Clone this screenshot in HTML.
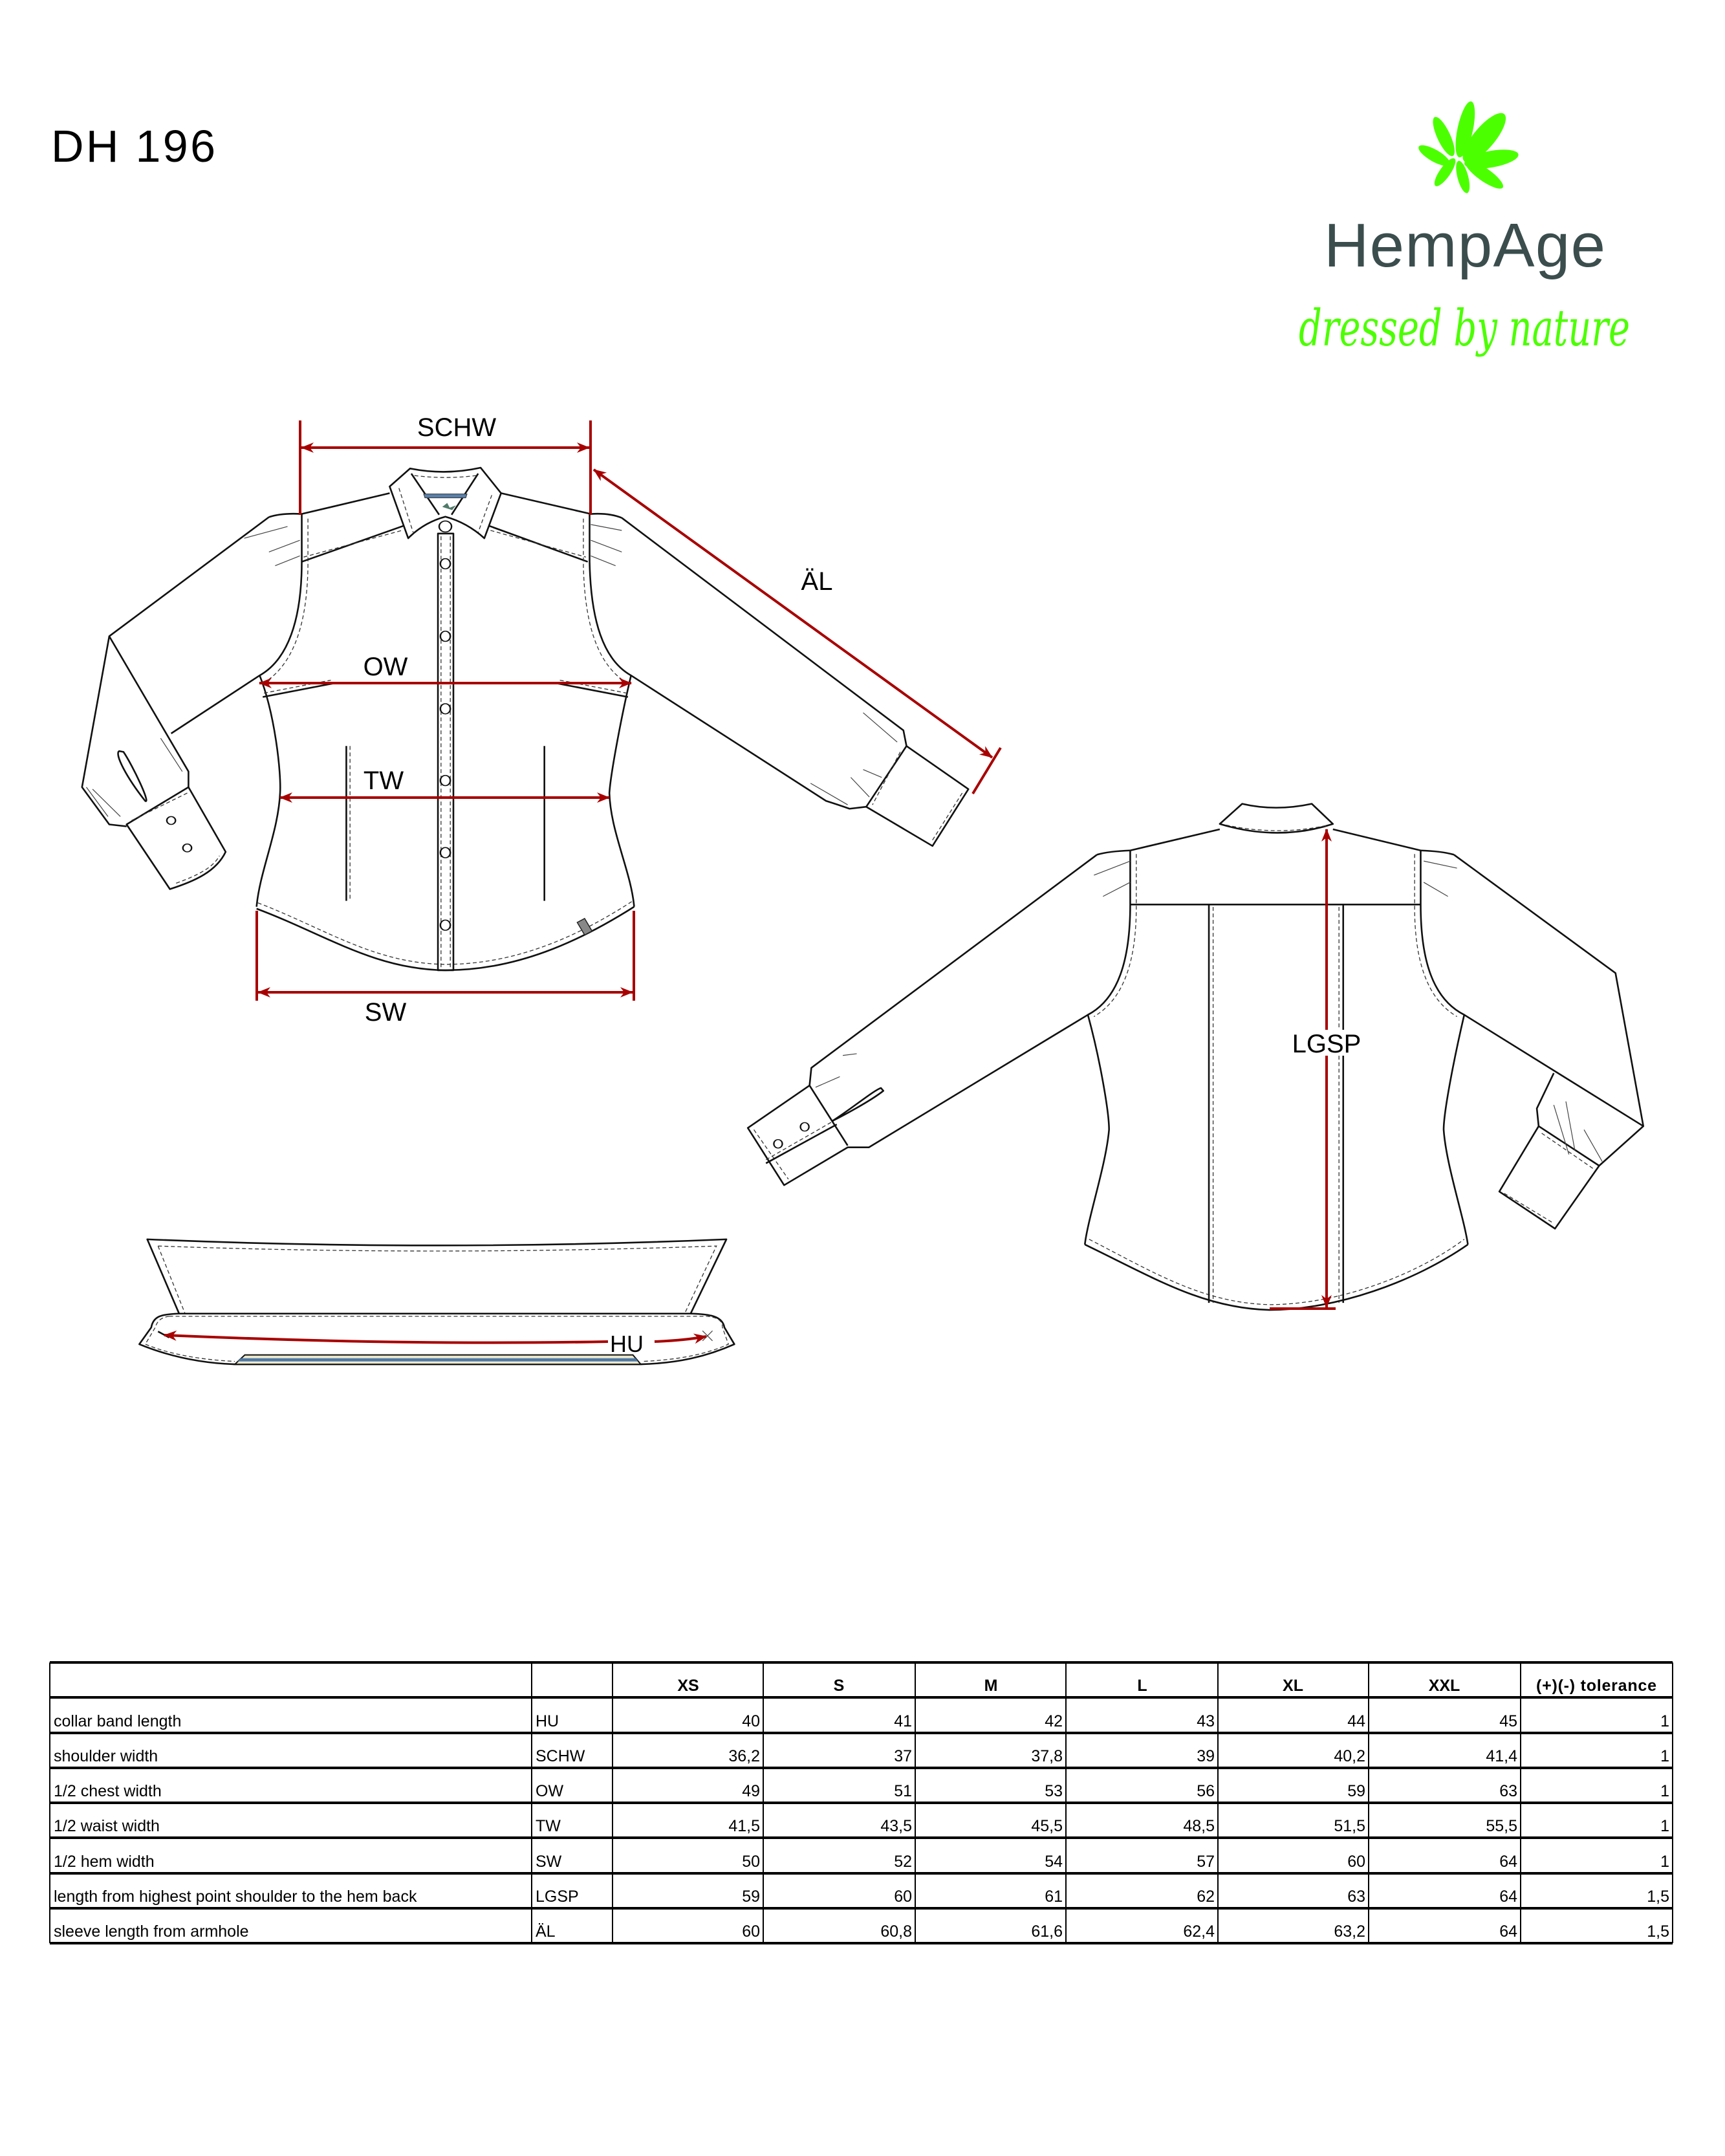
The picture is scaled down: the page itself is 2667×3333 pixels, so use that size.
<!DOCTYPE html>
<html><head><meta charset="utf-8"><style>
html,body{margin:0;padding:0;background:#fff;}
svg{display:block}
.k{fill:none;stroke:#111;stroke-width:2.6;vector-effect:non-scaling-stroke;stroke-linejoin:round}
.d{fill:none;stroke:#333;stroke-width:1.3;stroke-dasharray:6 4;vector-effect:non-scaling-stroke}
.t{fill:none;stroke:#444;stroke-width:1.2;vector-effect:non-scaling-stroke}
.r{fill:none;stroke:#a80000;stroke-width:4}
.lbl{font-family:"Liberation Sans",sans-serif;font-size:40px;fill:#000;text-anchor:middle}
.tb{font-family:"Liberation Sans",sans-serif;font-size:25px;fill:#000}
.h{font-weight:bold;text-anchor:middle}
.n{text-anchor:end}
</style></head><body>
<svg width="2667" height="3333" viewBox="0 0 2667 3333" xmlns="http://www.w3.org/2000/svg">
<defs>
<marker id="ah" viewBox="0 0 20 16" refX="19" refY="8" markerWidth="20" markerHeight="16" markerUnits="userSpaceOnUse" orient="auto-start-reverse">
<path d="M0,0 L20,8 L0,16 L6,8 Z" fill="#a80000"/></marker>
</defs>
<rect width="2667" height="3333" fill="#fff"/>

<text x="79" y="250" font-family="Liberation Sans, sans-serif" font-size="70" textLength="254" fill="#000">DH 196</text>

<g fill="#4cff00" transform="translate(2258,246) scale(0.92)">
<ellipse cx="8" cy="-50" rx="13" ry="48" transform="rotate(12 8 -50)"/>
<ellipse cx="-28" cy="-38" rx="11" ry="36" transform="rotate(-25 -28 -38)"/>
<ellipse cx="40" cy="-36" rx="18" ry="52" transform="rotate(40 40 -36)"/>
<ellipse cx="52" cy="0" rx="14" ry="46" transform="rotate(80 52 0)"/>
<ellipse cx="-44" cy="-6" rx="10" ry="30" transform="rotate(-60 -44 -6)"/>
<ellipse cx="-26" cy="22" rx="9" ry="28" transform="rotate(35 -26 22)"/>
<ellipse cx="4" cy="30" rx="9" ry="28" transform="rotate(-15 4 30)"/>
<ellipse cx="40" cy="26" rx="11" ry="38" transform="rotate(-55 40 26)"/>
</g>
<text x="2047" y="412" font-family="Liberation Sans, sans-serif" font-size="96" textLength="435" fill="#3b4d4d">HempAge</text>
<text x="2008" y="534" font-family="DejaVu Serif, serif" font-style="italic" font-size="78" textLength="512" lengthAdjust="spacingAndGlyphs" fill="#4cff00">dressed by nature</text>

<!-- FRONT SHIRT -->
<g transform="translate(100,620) scale(0.957,0.606)">
<path class="k" d="M558,172 Q615,190 672,170 L705,235 L678,350 Q650,310 615,295 Q580,310 555,350 L525,218 Z"/>
<path class="d" d="M540,222 L563,335 M690,240 L668,335 M565,190 Q615,200 665,190"/>
<path class="k" d="M560,185 L605,290 M668,185 L625,290"/>
<path d="M580,237 L650,237 L648,247 L582,247 Z" fill="#5a7fa8" stroke="#333" stroke-width="1" vector-effect="non-scaling-stroke"/>
<path d="M610,270 l8,-10 l4,12 l10,-6 l-6,12 z" fill="#4f7a6a"/>
<path class="k" d="M525,235 L383,288 M705,235 L850,288"/>
<path class="k" d="M383,288 Q350,285 330,296 M850,288 Q880,285 900,298"/>
<path class="k" d="M383,410 L548,318 M685,318 L845,410"/>
<path class="d" d="M386,398 L545,330 M688,330 L842,398"/>
<path class="k" d="M383,288 L383,410 C383,560 360,660 315,700 C340,800 350,950 348,1000 C345,1100 315,1200 310,1290"/>
<path class="d" d="M393,300 L393,420 C392,560 372,660 330,710"/>
<path class="k" d="M310,1295 C420,1360 500,1450 615,1452 C730,1452 830,1380 920,1290"/>
<path class="d" d="M312,1280 C420,1345 500,1435 615,1437 C730,1437 830,1365 918,1275"/>
<path class="k" d="M848,288 L848,410 C850,560 870,660 915,700 C900,800 882,950 880,1000 C882,1100 915,1200 920,1290"/>
<path class="d" d="M838,300 L838,420 C840,560 858,660 900,710"/>
<rect class="k" x="603" y="338" width="25" height="1114"/>
<path class="d" d="M608,345 L608,1445 M623,345 L623,1445"/>
<g fill="#fff" stroke="#111" stroke-width="2.5" vector-effect="non-scaling-stroke">
<ellipse cx="615" cy="320" rx="10" ry="14"/>
<ellipse cx="615" cy="415" rx="8" ry="13"/><ellipse cx="615" cy="600" rx="8" ry="13"/>
<ellipse cx="615" cy="785" rx="8" ry="13"/><ellipse cx="615" cy="968" rx="8" ry="13"/>
<ellipse cx="615" cy="1152" rx="8" ry="13"/><ellipse cx="615" cy="1337" rx="8" ry="13"/>
</g>
<path class="k" d="M320,755 L435,720 M795,720 L910,755"/>
<path class="d" d="M322,745 L430,712 M800,712 L908,745"/>
<path class="k" d="M455,880 L455,1275 M775,880 L775,1275"/>
<path class="d" d="M461,880 L461,1275"/>
<path d="M828,1330 L840,1320 L852,1352 L840,1362 Z" fill="#888" stroke="#222" stroke-width="1.5" vector-effect="non-scaling-stroke"/>
<path class="k" d="M330,296 L72,600 L28,985 L72,1080 L100,1085 M72,600 L200,945 L200,985 M315,700 L172,848"/>
<path class="k" d="M100,1080 L170,1245 C210,1225 245,1200 260,1150 L200,985 Z"/>
<path class="d" d="M108,1070 L198,1000 M180,1230 C215,1210 240,1190 250,1160"/>
<path class="k" d="M88,893 C80,900 100,960 130,1020 C140,1030 110,930 95,895 Z"/>
<path class="t" d="M290,350 L360,320 M330,385 L380,355 M340,420 L380,395 M35,985 L70,1060 M45,990 L90,1060 M155,860 L190,945"/>
<g fill="#fff" stroke="#111" stroke-width="2.5" vector-effect="non-scaling-stroke"><ellipse cx="172" cy="1070" rx="7" ry="10"/><ellipse cx="198" cy="1140" rx="7" ry="10"/></g>
<path class="k" d="M900,298 L1355,840 L1360,880 L1460,990 L1402,1135 L1295,1035 L1268,1040 C1250,1030 1240,1025 1230,1020 L915,700"/>
<path class="k" d="M1360,880 L1295,1035"/>
<path class="d" d="M1350,895 L1305,1030 M1450,1000 L1400,1125"/>
<path class="t" d="M850,315 L900,330 M850,355 L900,385 M850,395 L890,420 M1290,795 L1345,870 M1270,960 L1300,1010 M1205,975 L1265,1030 M1290,940 L1320,960"/>
</g>

<!-- BACK SHIRT -->
<g transform="translate(1130,1200) scale(0.9355,0.5464)">
<path class="k" d="M808,135 L845,78 Q900,100 960,78 L995,135 Q905,185 808,135 Z"/>
<path class="d" d="M818,138 Q905,170 988,138"/>
<path class="k" d="M808,150 L660,210 M995,150 L1140,210"/>
<path class="k" d="M660,210 Q625,212 605,222 M1140,210 Q1175,212 1195,222"/>
<path class="k" d="M660,363 L1140,363"/>
<path class="k" d="M660,210 L660,363 C660,520 640,630 590,675 C610,800 625,950 625,1000 C620,1100 590,1250 585,1325"/>
<path class="d" d="M670,220 L670,370 C670,520 650,630 600,680"/>
<path class="k" d="M585,1325 C700,1420 780,1505 890,1510 C1000,1510 1130,1430 1218,1325"/>
<path class="d" d="M592,1310 C700,1405 780,1490 890,1495 C1000,1495 1130,1415 1212,1310"/>
<path class="k" d="M1140,210 L1140,363 C1140,520 1160,630 1212,675 C1195,800 1178,950 1178,1000 C1182,1100 1212,1250 1218,1325"/>
<path class="d" d="M1130,220 L1130,370 C1130,520 1150,630 1200,680"/>
<path class="k" d="M790,363 L790,1490 M1012,363 L1012,1490"/>
<path class="d" d="M797,370 L797,1490 M1005,370 L1005,1490"/>
<path class="k" d="M605,222 L133,825 L130,875 L28,995 L88,1157 L193,1050 L228,1050 L590,675 M130,875 L193,1045"/>
<path class="d" d="M38,1000 L95,1140 M58,1085 L170,975"/>
<path class="k" d="M58,1095 L175,985"/>
<path class="k" d="M248,882 C235,890 200,940 168,975 C180,965 230,920 252,890 Z"/>
<g fill="#fff" stroke="#111" stroke-width="2.5" vector-effect="non-scaling-stroke"><ellipse cx="78" cy="1040" rx="7" ry="12"/><ellipse cx="122" cy="992" rx="7" ry="12"/></g>
<path class="t" d="M600,280 L660,240 M615,340 L660,300 M140,880 L180,850 M185,790 L208,785 M1145,240 L1200,260 M1145,300 L1185,340"/>
<path class="k" d="M1195,222 L1462,557 L1508,990 L1212,675"/>
<path class="k" d="M1508,990 L1435,1102 L1362,1280 L1270,1175 L1335,990 L1332,940 L1360,840 M1335,990 L1435,1102"/>
<path class="d" d="M1340,1010 L1425,1110 M1278,1180 L1360,1265"/>
<path class="t" d="M1360,930 L1385,1070 M1410,1000 L1440,1090 M1380,920 L1395,1060"/>
</g>

<!-- COLLAR BAND -->
<g transform="translate(200,1890) scale(0.6154,0.345)">
<path class="k" d="M45,75 Q770,130 1500,75 L1410,408 L125,408 Z"/>
<path class="d" d="M72,105 Q770,150 1475,105 L1395,408 M72,105 L140,408"/>
<path class="k" d="M125,408 C80,410 60,420 55,470 L25,545 C100,600 180,630 265,635 L1285,635 C1380,630 1450,600 1520,545 L1495,470 C1490,420 1460,410 1410,408 Z"/>
<path class="d" d="M100,420 L1450,420 C1480,425 1490,440 1490,470 L1505,545 C1450,590 1380,615 1290,622 M100,420 C80,425 70,440 65,470 L40,545 C100,590 180,615 265,622"/>
<path d="M290,593 L1265,593 L1285,635 L265,635 Z" fill="#ece8cc" stroke="#111" stroke-width="2" vector-effect="non-scaling-stroke"/>
<path d="M280,608 L1272,608 L1278,622 L272,622 Z" fill="#4f79a6"/>
<path class="k" d="M72,488 L100,515"/>
<path class="t" d="M1440,485 L1465,530 M1465,485 L1440,530"/>
</g>

<!-- Red dimension lines -->
<path class="r" d="M464,650 L464,796 M913,650 L913,796"/>
<line class="r" x1="466" y1="692" x2="911" y2="692" marker-start="url(#ah)" marker-end="url(#ah)"/>
<text class="lbl" x="706" y="674">SCHW</text>
<line class="r" x1="918" y1="726" x2="1534" y2="1171" marker-start="url(#ah)" marker-end="url(#ah)"/>
<path class="r" d="M1547,1156 L1504,1227"/>
<text class="lbl" x="1263" y="912">ÄL</text>
<line class="r" x1="401" y1="1056" x2="976" y2="1056" marker-start="url(#ah)" marker-end="url(#ah)"/>
<text class="lbl" x="596" y="1044">OW</text>
<line class="r" x1="433" y1="1233" x2="942" y2="1233" marker-start="url(#ah)" marker-end="url(#ah)"/>
<text class="lbl" x="593" y="1220">TW</text>
<path class="r" d="M397,1408 L397,1547 M980,1408 L980,1547"/>
<line class="r" x1="399" y1="1534" x2="978" y2="1534" marker-start="url(#ah)" marker-end="url(#ah)"/>
<text class="lbl" x="596" y="1578">SW</text>
<line class="r" x1="2051" y1="1282" x2="2051" y2="2021" marker-start="url(#ah)" marker-end="url(#ah)"/>
<rect x="1995" y="1592" width="112" height="40" fill="#fff"/>
<text class="lbl" x="2051" y="1627">LGSP</text>
<path class="r" d="M1963,2023 L2065,2023"/>
<path class="r" d="M254,2064 Q620,2080 940,2074" marker-start="url(#ah)"/>
<path class="r" d="M1012,2074 Q1060,2072 1092,2066" marker-end="url(#ah)"/>
<text x="969" y="2090" font-family="Liberation Sans, sans-serif" font-size="36" text-anchor="middle">HU</text>

<!-- TABLE -->
<g stroke="#000">
<g stroke-width="4">
<line x1="77" y1="2570" x2="2586" y2="2570"/><line x1="77" y1="2624" x2="2586" y2="2624"/>
<line x1="77" y1="2679" x2="2586" y2="2679"/><line x1="77" y1="2733" x2="2586" y2="2733"/>
<line x1="77" y1="2787" x2="2586" y2="2787"/><line x1="77" y1="2841" x2="2586" y2="2841"/>
<line x1="77" y1="2896" x2="2586" y2="2896"/><line x1="77" y1="2950" x2="2586" y2="2950"/>
<line x1="77" y1="3004" x2="2586" y2="3004"/>
</g>
<g stroke-width="2">
<line x1="77" y1="2570" x2="77" y2="3004"/><line x1="822" y1="2570" x2="822" y2="3004"/>
<line x1="947" y1="2570" x2="947" y2="3004"/><line x1="1180" y1="2570" x2="1180" y2="3004"/>
<line x1="1415" y1="2570" x2="1415" y2="3004"/><line x1="1648" y1="2570" x2="1648" y2="3004"/>
<line x1="1883" y1="2570" x2="1883" y2="3004"/><line x1="2116" y1="2570" x2="2116" y2="3004"/>
<line x1="2351" y1="2570" x2="2351" y2="3004"/><line x1="2586" y1="2570" x2="2586" y2="3004"/>
</g>
</g>
<text class="tb h" x="1064" y="2614">XS</text>
<text class="tb h" x="1297" y="2614">S</text>
<text class="tb h" x="1532" y="2614">M</text>
<text class="tb h" x="1766" y="2614">L</text>
<text class="tb h" x="1999" y="2614">XL</text>
<text class="tb h" x="2233" y="2614">XXL</text>
<text class="tb h" x="2468" y="2614" textLength="186">(+)(-) tolerance</text>

<text class="tb" x="83" y="2669">collar band length</text><text class="tb" x="828" y="2669">HU</text>
<text class="tb" x="83" y="2723">shoulder width</text><text class="tb" x="828" y="2723">SCHW</text>
<text class="tb" x="83" y="2777">1/2 chest width</text><text class="tb" x="828" y="2777">OW</text>
<text class="tb" x="83" y="2831">1/2 waist width</text><text class="tb" x="828" y="2831">TW</text>
<text class="tb" x="83" y="2886">1/2 hem width</text><text class="tb" x="828" y="2886">SW</text>
<text class="tb" x="83" y="2940">length from highest point shoulder to the hem back</text><text class="tb" x="828" y="2940">LGSP</text>
<text class="tb" x="83" y="2994">sleeve length from armhole</text><text class="tb" x="828" y="2994">ÄL</text>

<text class="tb n" x="1175" y="2669">40</text><text class="tb n" x="1410" y="2669">41</text><text class="tb n" x="1643" y="2669">42</text><text class="tb n" x="1878" y="2669">43</text><text class="tb n" x="2111" y="2669">44</text><text class="tb n" x="2346" y="2669">45</text><text class="tb n" x="2581" y="2669">1</text>
<text class="tb n" x="1175" y="2723">36,2</text><text class="tb n" x="1410" y="2723">37</text><text class="tb n" x="1643" y="2723">37,8</text><text class="tb n" x="1878" y="2723">39</text><text class="tb n" x="2111" y="2723">40,2</text><text class="tb n" x="2346" y="2723">41,4</text><text class="tb n" x="2581" y="2723">1</text>
<text class="tb n" x="1175" y="2777">49</text><text class="tb n" x="1410" y="2777">51</text><text class="tb n" x="1643" y="2777">53</text><text class="tb n" x="1878" y="2777">56</text><text class="tb n" x="2111" y="2777">59</text><text class="tb n" x="2346" y="2777">63</text><text class="tb n" x="2581" y="2777">1</text>
<text class="tb n" x="1175" y="2831">41,5</text><text class="tb n" x="1410" y="2831">43,5</text><text class="tb n" x="1643" y="2831">45,5</text><text class="tb n" x="1878" y="2831">48,5</text><text class="tb n" x="2111" y="2831">51,5</text><text class="tb n" x="2346" y="2831">55,5</text><text class="tb n" x="2581" y="2831">1</text>
<text class="tb n" x="1175" y="2886">50</text><text class="tb n" x="1410" y="2886">52</text><text class="tb n" x="1643" y="2886">54</text><text class="tb n" x="1878" y="2886">57</text><text class="tb n" x="2111" y="2886">60</text><text class="tb n" x="2346" y="2886">64</text><text class="tb n" x="2581" y="2886">1</text>
<text class="tb n" x="1175" y="2940">59</text><text class="tb n" x="1410" y="2940">60</text><text class="tb n" x="1643" y="2940">61</text><text class="tb n" x="1878" y="2940">62</text><text class="tb n" x="2111" y="2940">63</text><text class="tb n" x="2346" y="2940">64</text><text class="tb n" x="2581" y="2940">1,5</text>
<text class="tb n" x="1175" y="2994">60</text><text class="tb n" x="1410" y="2994">60,8</text><text class="tb n" x="1643" y="2994">61,6</text><text class="tb n" x="1878" y="2994">62,4</text><text class="tb n" x="2111" y="2994">63,2</text><text class="tb n" x="2346" y="2994">64</text><text class="tb n" x="2581" y="2994">1,5</text>
</svg>
</body></html>
